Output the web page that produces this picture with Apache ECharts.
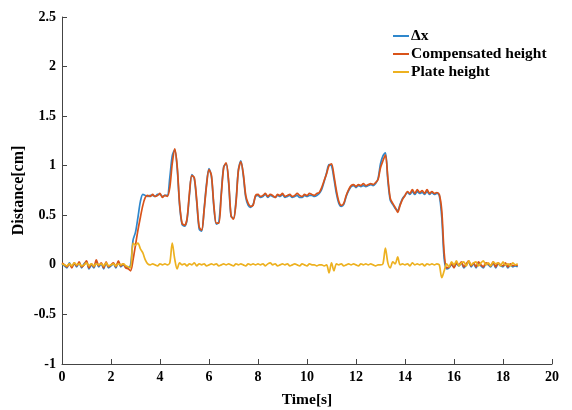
<!DOCTYPE html>
<html>
<head>
<meta charset="utf-8">
<script src="https://cdn.jsdelivr.net/npm/echarts@6/dist/echarts.min.js"></script>
<style>html,body{margin:0;padding:0;background:#fff}#c{width:572px;height:410px}</style>
</head>
<body>
<div id="c"></div>
<script>
// sampling step of the recorded traces (s)
var timeStep = 0.1;
var seriesNames = ['Δx', 'Compensated height', 'Plate height'];
var xTicks = [0, 2, 4, 6, 8, 10, 12, 14, 16, 18, 20];
var yTicks = [-1, -0.5, 0, 0.5, 1, 1.5, 2, 2.5];

var deltaX = [
 0.01,-0.01,-0.03,0.02,-0.02,0.01,-0.02,0.02,-0.03,0.01,0.03,-0.04,0.00,-0.03,0.03,-0.02,0.01,-0.04,0.02,-0.03,-0.01,0.01,-0.03,0.03,-0.02,0.00,-0.02,-0.03,
 0.00,0.25,0.33,0.48,0.64,0.71,0.70,0.69,0.70,0.70,0.69,0.71,0.71,0.69,0.70,0.70,
 0.88,1.10,1.16,0.98,0.60,0.41,0.39,0.45,0.70,0.91,0.87,0.63,0.36,0.34,0.56,0.82,0.97,0.89,0.58,0.41,0.43,0.72,0.99,1.02,0.83,0.49,0.47,0.64,0.96,1.05,0.90,0.68,0.60,0.58,0.61,0.69,
 0.70,0.68,0.69,0.71,0.68,0.70,0.69,0.68,0.70,0.69,0.71,0.68,0.69,0.70,0.68,0.69,0.70,0.68,0.68,0.70,0.69,0.70,0.70,0.69,0.70,0.72,
 0.76,0.84,0.93,1.01,1.00,0.87,0.72,0.62,0.59,0.61,0.69,0.75,0.79,0.80,0.78,0.80,0.79,0.80,0.79,0.80,0.81,0.80,0.82,0.87,
 1.02,1.10,1.13,0.85,0.65,0.61,0.57,0.55,0.61,0.67,0.70,0.73,0.71,0.74,0.71,0.74,0.72,0.73,0.71,0.74,0.71,0.73,0.71,0.72,0.70,
 0.48,0.06,-0.04,-0.03,0.00,-0.02,0.01,-0.01,0.02,-0.03,0.00,0.03,-0.02,0.01,-0.03,0.02,-0.01,-0.03,0.01,0.00,-0.02,0.02,-0.03,0.01,-0.01,-0.02,0.01,-0.03,0.00,-0.02,-0.01,-0.02
];

var compHeight = [
 0.02,0.00,-0.02,0.01,-0.03,0.02,-0.01,0.03,-0.02,0.00,0.04,-0.03,0.01,-0.02,0.05,-0.01,0.02,-0.03,0.03,-0.02,0.00,0.02,-0.02,0.04,-0.01,0.01,-0.03,-0.04,
 -0.06,0.05,0.20,0.35,0.48,0.60,0.68,0.70,0.69,0.71,0.69,0.70,0.72,0.68,0.70,0.69,
 0.78,1.02,1.17,1.00,0.62,0.42,0.40,0.46,0.72,0.90,0.88,0.65,0.38,0.35,0.55,0.80,0.96,0.90,0.60,0.42,0.42,0.70,0.98,1.03,0.85,0.50,0.46,0.62,0.95,1.04,0.92,0.70,0.62,0.59,0.60,0.70,
 0.71,0.69,0.70,0.72,0.69,0.71,0.70,0.68,0.71,0.70,0.72,0.69,0.70,0.71,0.69,0.70,0.72,0.70,0.69,0.71,0.70,0.72,0.71,0.70,0.72,0.73,
 0.78,0.85,0.92,1.00,1.02,0.90,0.75,0.64,0.60,0.62,0.70,0.76,0.80,0.81,0.79,0.81,0.80,0.82,0.80,0.81,0.82,0.81,0.83,0.86,
 0.98,1.05,1.11,0.88,0.67,0.62,0.58,0.53,0.60,0.66,0.70,0.74,0.72,0.76,0.72,0.76,0.73,0.75,0.72,0.76,0.72,0.74,0.72,0.73,0.71,
 0.55,0.12,-0.03,-0.02,0.01,-0.03,0.02,0.00,0.03,-0.02,0.01,0.04,-0.01,0.02,-0.02,0.03,0.00,-0.02,0.02,0.01,-0.01,0.03,-0.02,0.02,0.00,-0.01,0.02,-0.02,0.01,-0.01,0.00,-0.01
];

var plateHeight = [
 0.01,0.00,-0.01,0.01,-0.01,0.02,0.00,0.01,-0.01,0.00,0.02,-0.01,0.01,-0.01,0.01,0.00,0.01,-0.01,0.02,-0.01,0.00,0.01,-0.01,0.01,0.00,0.01,-0.01,-0.02,
 -0.03,0.22,0.20,0.22,0.16,0.12,0.05,0.01,0.00,0.01,0.00,-0.01,0.01,0.00,0.01,0.00,
 0.02,0.22,0.06,-0.04,0.02,0.00,0.01,-0.01,0.01,0.00,0.02,-0.01,0.01,0.00,0.01,-0.01,0.00,0.01,0.00,0.01,-0.01,0.00,0.01,0.00,0.01,0.00,-0.01,0.01,0.00,0.01,0.00,-0.01,0.01,0.00,0.01,0.00,
 0.01,0.00,0.01,-0.01,0.01,0.02,0.00,0.01,-0.01,0.00,0.01,0.00,0.01,-0.01,0.00,0.01,0.00,-0.01,0.01,0.00,-0.01,0.01,0.00,0.00,-0.01,0.00,
 0.00,-0.01,0.00,-0.08,0.02,-0.06,0.01,0.00,0.01,-0.01,0.00,0.01,0.00,0.01,0.00,-0.01,0.01,0.00,0.01,0.00,0.01,0.00,-0.01,0.00,
 0.00,0.01,0.17,0.02,-0.03,0.03,0.01,0.08,0.00,0.01,0.00,0.01,-0.01,0.02,0.00,0.01,0.00,0.01,-0.01,0.01,0.00,0.01,0.00,0.01,0.00,
 -0.13,-0.06,0.01,-0.02,0.03,0.00,0.04,-0.01,0.02,0.03,-0.01,0.04,0.00,0.02,0.03,-0.01,0.02,0.04,0.00,0.02,-0.01,0.03,0.01,0.02,-0.01,0.03,0.00,0.01,-0.01,0.02,0.00,0.01
];

function pairs(arr) {
  return arr.map(function (v, i) { return [+(i * timeStep).toFixed(2), v]; });
}

var font = 'Liberation Serif';
var chart = echarts.init(document.getElementById('c'), null, {renderer: 'canvas'});
chart.setOption({
  animation: false,
  backgroundColor: '#ffffff',
  color: ['#2f87cc', '#d95319', '#edb120'],
  grid: {left: 62, right: 20, top: 17, bottom: 46, containLabel: false, outerBoundsMode: 'none'},
  legend: {
    data: seriesNames,
    orient: 'vertical',
    left: 388, top: 23,
    icon: 'rect', itemWidth: 16, itemHeight: 2, itemGap: 2,
    textStyle: {fontFamily: font, fontWeight: 'bold', fontSize: 15.5, color: '#000', padding: [0, 0, 0, -3]}
  },
  xAxis: {
    type: 'value', min: xTicks[0], max: xTicks[xTicks.length - 1], interval: 2,
    name: 'Time[s]', nameLocation: 'middle', nameGap: 28, nameMoveOverlap: false,
    nameTextStyle: {fontFamily: font, fontWeight: 'bold', fontSize: 15.5, color: '#000'},
    axisLine: {onZero: false, lineStyle: {color: '#444', width: 1}},
    axisTick: {inside: true, length: 5, lineStyle: {color: '#444'}},
    axisLabel: {fontFamily: font, fontWeight: 'bold', fontSize: 14, color: '#000', margin: 6},
    splitLine: {show: false}
  },
  yAxis: {
    type: 'value', min: yTicks[0], max: yTicks[yTicks.length - 1], interval: 0.5,
    name: 'Distance[cm]', nameLocation: 'middle', nameGap: 35, nameMoveOverlap: false,
    nameTextStyle: {fontFamily: font, fontWeight: 'bold', fontSize: 16, color: '#000'},
    axisLine: {show: true, onZero: false, lineStyle: {color: '#444', width: 1}},
    axisTick: {show: true, inside: true, length: 5, lineStyle: {color: '#444'}},
    axisLabel: {fontFamily: font, fontWeight: 'bold', fontSize: 14, color: '#000', margin: 6},
    splitLine: {show: false}
  },
  series: [
    {name: seriesNames[0], type: 'line', data: pairs(deltaX), showSymbol: false, smooth: 0.3, lineStyle: {width: 1.7}, z: 2},
    {name: seriesNames[1], type: 'line', data: pairs(compHeight), showSymbol: false, smooth: 0.3, lineStyle: {width: 1.7}, z: 3},
    {name: seriesNames[2], type: 'line', data: pairs(plateHeight), showSymbol: false, smooth: 0.3, lineStyle: {width: 1.7}, z: 4}
  ]
});
</script>
</body>
</html>
